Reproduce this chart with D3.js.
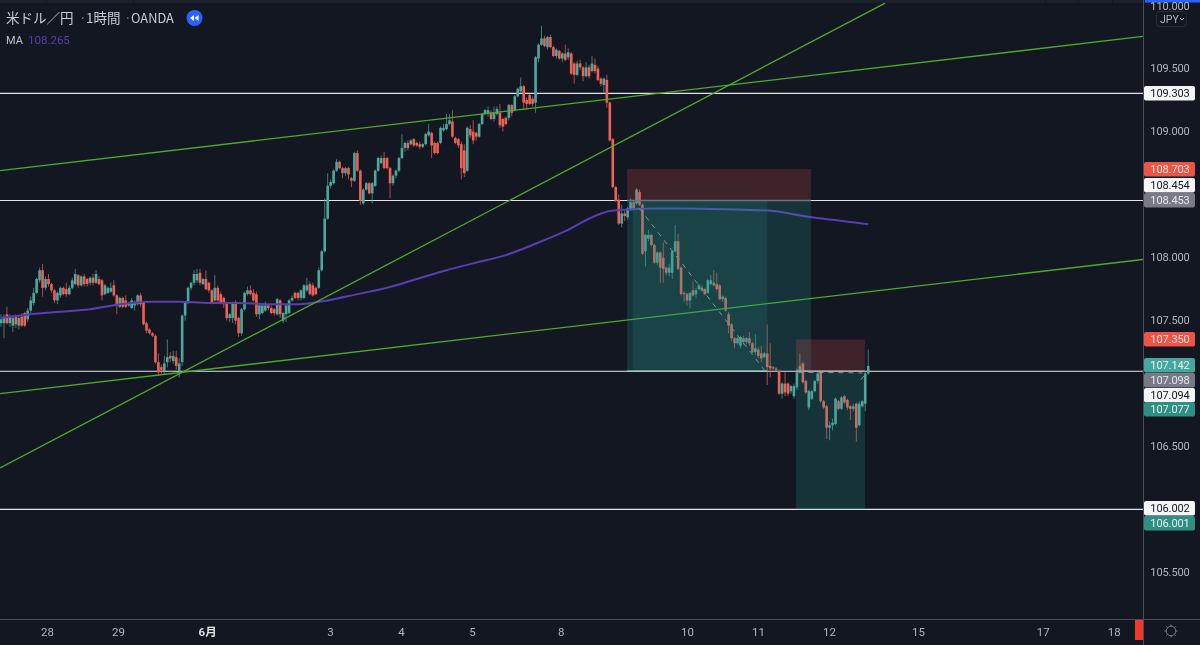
<!DOCTYPE html>
<html><head><meta charset="utf-8">
<script src="https://cdn.jsdelivr.net/npm/d3@7/dist/d3.min.js"></script>
<style>
html,body{margin:0;padding:0;background:#131722;overflow:hidden}
svg{display:block;font-family:Roboto,sans-serif;filter:blur(0.3px)}
</style></head><body>
<svg id="c" width="1200" height="645"></svg>
<script>
// ---------- data (USD/JPY, 1 hour, OANDA) ----------
const opens=[
107.48,107.48,107.55,107.48,107.46,107.53,107.46,107.53,107.56,107.51,
107.58,107.64,107.72,107.82,107.90,107.76,107.83,107.79,107.74,107.66,
107.70,107.76,107.75,107.71,107.76,107.79,107.86,107.78,107.85,107.83,
107.80,107.84,107.80,107.83,107.82,107.71,107.72,107.73,107.78,107.70,
107.61,107.68,107.66,107.62,107.60,107.62,107.63,107.70,107.64,107.48,
107.43,107.40,107.38,107.17,107.13,107.10,107.17,107.22,107.18,107.21,
107.10,107.17,107.54,107.64,107.76,107.80,107.82,107.88,107.79,107.83,
107.80,107.74,107.66,107.76,107.71,107.68,107.64,107.52,107.52,107.64,
107.52,107.40,107.59,107.71,107.74,107.72,107.71,107.55,107.56,107.58,
107.62,107.60,107.59,107.55,107.66,107.50,107.55,107.56,107.66,107.72,
107.72,107.68,107.68,107.74,107.79,107.78,107.76,107.76,107.90,108.05,
108.31,108.57,108.59,108.69,108.76,108.71,108.67,108.71,108.63,108.61,
108.83,108.69,108.43,108.54,108.59,108.51,108.57,108.69,108.75,108.79,
108.79,108.71,108.59,108.65,108.69,108.79,108.87,108.91,108.90,108.94,
108.91,108.90,108.88,108.90,108.97,108.99,108.91,108.91,108.91,109.01,
109.02,109.06,109.08,108.95,108.94,108.90,108.85,108.69,109.02,109.00,
108.99,108.96,109.06,109.14,109.14,109.15,109.10,109.14,109.15,109.10,
109.11,109.11,109.21,109.17,109.28,109.32,109.36,109.25,109.29,109.26,
109.23,109.58,109.69,109.74,109.67,109.75,109.67,109.60,109.64,109.58,
109.62,109.59,109.62,109.54,109.45,109.54,109.51,109.44,109.51,109.48,
109.53,109.50,109.42,109.37,109.41,109.23,108.94,108.56,108.46,108.27,
108.35,108.32,108.38,108.44,108.43,108.52,108.42,108.05,108.15,108.18,
108.10,107.96,108.04,108.00,107.92,107.88,107.88,108.05,108.13,107.92,
107.72,107.71,107.66,107.74,107.71,107.75,107.76,107.75,107.72,107.79,
107.80,107.79,107.78,107.67,107.68,107.55,107.47,107.36,107.32,107.30,
107.36,107.33,107.36,107.32,107.25,107.27,107.24,107.21,107.24,107.14,
107.13,107.12,107.10,106.92,107.00,107.00,106.94,106.90,106.97,107.09,
107.16,107.02,106.81,106.88,106.94,107.02,107.09,106.86,106.82,106.65,
106.67,106.68,106.86,106.80,106.90,106.87,106.82,106.80,106.84,106.67,
106.82,106.84,107.08];
const highs=[
107.55,107.55,107.61,107.55,107.54,107.55,107.54,107.56,107.57,107.60,
107.69,107.76,107.84,107.92,107.95,107.85,107.87,107.80,107.75,107.73,
107.77,107.77,107.80,107.78,107.84,107.91,107.87,107.86,107.87,107.84,
107.85,107.87,107.90,107.85,107.83,107.79,107.77,107.80,107.82,107.71,
107.69,107.69,107.70,107.65,107.68,107.66,107.71,107.72,107.65,107.49,
107.44,107.41,107.39,107.24,107.15,107.22,107.35,107.25,107.26,107.26,
107.20,107.55,107.65,107.77,107.81,107.90,107.91,107.91,107.84,107.90,
107.81,107.75,107.86,107.78,107.73,107.69,107.65,107.56,107.65,107.66,
107.53,107.60,107.73,107.77,107.78,107.75,107.73,107.63,107.64,107.65,
107.63,107.62,107.60,107.68,107.67,107.57,107.63,107.67,107.70,107.73,
107.73,107.75,107.79,107.84,107.81,107.80,107.77,107.92,108.06,108.47,
108.67,108.62,108.70,108.78,108.77,108.72,108.72,108.72,108.64,108.84,
108.85,108.70,108.55,108.60,108.60,108.60,108.70,108.80,108.81,108.84,
108.80,108.72,108.66,108.70,108.80,108.98,108.92,108.93,108.94,108.95,
108.92,108.92,108.91,108.99,109.06,109.00,108.92,108.92,109.04,109.06,
109.14,109.14,109.17,108.96,108.95,108.92,108.90,109.04,109.05,109.09,
109.00,109.07,109.15,109.18,109.20,109.17,109.20,109.20,109.22,109.11,
109.12,109.22,109.22,109.29,109.35,109.43,109.37,109.27,109.30,109.28,
109.60,109.70,109.84,109.76,109.76,109.77,109.68,109.66,109.65,109.63,
109.69,109.66,109.63,109.55,109.56,109.57,109.52,109.55,109.53,109.60,
109.58,109.52,109.43,109.43,109.45,109.24,108.95,108.57,108.50,108.42,
108.37,108.40,108.47,108.45,108.55,108.54,108.43,108.19,108.22,108.19,
108.11,108.05,108.05,108.12,107.93,107.95,108.06,108.26,108.19,107.93,
107.73,107.72,107.73,107.81,107.76,107.79,107.78,107.76,107.83,107.86,
107.90,107.88,107.79,107.70,107.69,107.57,107.48,107.37,107.37,107.38,
107.38,107.37,107.41,107.33,107.39,107.29,107.30,107.25,107.47,107.32,
107.14,107.13,107.11,107.01,107.09,107.01,106.99,107.00,107.12,107.24,
107.17,107.03,106.95,106.95,107.03,107.10,107.10,106.87,106.83,106.70,
106.72,106.89,106.87,106.90,106.91,106.88,106.83,106.84,106.85,106.86,
106.87,107.10,107.27];
const lows=[
107.45,107.36,107.47,107.45,107.41,107.44,107.43,107.45,107.45,107.49,
107.56,107.62,107.71,107.80,107.69,107.74,107.77,107.72,107.64,107.63,
107.68,107.70,107.69,107.70,107.75,107.78,107.76,107.77,107.77,107.77,
107.78,107.78,107.79,107.78,107.66,107.70,107.71,107.72,107.69,107.55,
107.60,107.60,107.60,107.61,107.59,107.58,107.62,107.61,107.46,107.40,
107.39,107.37,107.16,107.06,107.07,107.07,107.13,107.17,107.16,107.11,
107.05,107.14,107.50,107.63,107.74,107.78,107.80,107.78,107.78,107.74,
107.72,107.63,107.65,107.64,107.63,107.60,107.50,107.49,107.48,107.47,
107.37,107.38,107.58,107.70,107.70,107.65,107.53,107.51,107.55,107.57,
107.58,107.55,107.54,107.54,107.52,107.48,107.49,107.55,107.65,107.67,
107.66,107.66,107.67,107.73,107.70,107.69,107.70,107.75,107.89,108.04,
108.30,108.55,108.58,108.68,108.70,108.63,108.65,108.62,108.56,108.60,
108.68,108.42,108.42,108.53,108.50,108.43,108.56,108.68,108.74,108.70,
108.70,108.47,108.57,108.63,108.68,108.78,108.84,108.85,108.89,108.88,
108.88,108.86,108.87,108.89,108.96,108.79,108.82,108.82,108.90,109.00,
109.01,109.05,108.95,108.90,108.87,108.62,108.64,108.68,108.95,108.90,
108.93,108.95,109.05,109.13,109.12,109.09,109.08,109.13,109.03,109.00,
109.05,109.09,109.12,109.16,109.27,109.31,109.17,109.17,109.21,109.20,
109.15,109.55,109.68,109.67,109.65,109.66,109.59,109.58,109.57,109.55,
109.56,109.57,109.45,109.38,109.44,109.49,109.40,109.43,109.42,109.47,
109.46,109.40,109.36,109.30,109.19,108.92,108.55,108.44,108.26,108.24,
108.29,108.30,108.37,108.38,108.42,108.41,108.02,107.93,108.13,108.09,
107.95,107.94,107.80,107.80,107.86,107.85,107.83,108.04,107.90,107.70,
107.65,107.62,107.60,107.69,107.68,107.74,107.73,107.70,107.71,107.78,
107.77,107.74,107.66,107.65,107.57,107.40,107.34,107.28,107.31,107.28,
107.31,107.31,107.30,107.24,107.23,107.20,107.17,107.20,106.99,107.05,
107.11,107.10,106.91,106.88,106.90,106.90,106.92,106.88,106.95,107.08,
107.00,106.92,106.79,106.87,106.93,107.00,106.85,106.80,106.56,106.55,
106.63,106.67,106.79,106.79,106.84,106.79,106.71,106.78,106.54,106.66,
106.81,106.78,107.07];
const closes=[
107.51,107.53,107.48,107.53,107.52,107.47,107.52,107.46,107.46,107.58,
107.66,107.72,107.83,107.90,107.76,107.83,107.79,107.74,107.66,107.72,
107.76,107.71,107.71,107.76,107.82,107.87,107.78,107.85,107.79,107.79,
107.84,107.80,107.87,107.79,107.70,107.78,107.76,107.76,107.70,107.62,
107.68,107.61,107.61,107.64,107.66,107.64,107.70,107.63,107.47,107.42,
107.40,107.38,107.17,107.09,107.11,107.16,107.21,107.20,107.22,107.14,
107.16,107.54,107.64,107.76,107.80,107.87,107.87,107.80,107.83,107.75,
107.74,107.64,107.76,107.66,107.64,107.63,107.52,107.55,107.64,107.50,
107.40,107.59,107.72,107.74,107.71,107.66,107.55,107.62,107.62,107.62,
107.60,107.56,107.56,107.67,107.55,107.56,107.62,107.66,107.68,107.68,
107.68,107.74,107.78,107.78,107.71,107.70,107.71,107.90,108.05,108.31,
108.57,108.60,108.69,108.76,108.71,108.67,108.71,108.66,108.61,108.83,
108.69,108.45,108.54,108.59,108.51,108.59,108.69,108.79,108.79,108.71,
108.71,108.59,108.65,108.69,108.79,108.87,108.91,108.87,108.93,108.89,
108.89,108.88,108.90,108.98,109.00,108.89,108.83,108.83,109.03,109.03,
109.06,109.09,108.96,108.91,108.89,108.71,108.67,109.03,108.97,108.93,
108.96,109.06,109.14,109.17,109.17,109.10,109.15,109.18,109.05,109.04,
109.06,109.21,109.15,109.28,109.34,109.36,109.23,109.22,109.22,109.22,
109.59,109.69,109.74,109.68,109.75,109.67,109.60,109.65,109.58,109.62,
109.57,109.63,109.46,109.45,109.54,109.51,109.44,109.51,109.44,109.54,
109.48,109.41,109.38,109.42,109.23,108.93,108.56,108.45,108.27,108.35,
108.33,108.39,108.44,108.39,108.54,108.42,108.03,108.18,108.18,108.10,
107.96,108.04,107.92,107.91,107.88,107.92,108.05,108.13,107.91,107.71,
107.71,107.66,107.72,107.70,107.74,107.78,107.74,107.71,107.82,107.82,
107.78,107.75,107.67,107.69,107.58,107.46,107.36,107.32,107.36,107.37,
107.33,107.36,107.32,107.25,107.28,107.22,107.20,107.24,107.13,107.12,
107.12,107.11,106.92,107.00,106.93,106.92,106.98,106.98,107.09,107.14,
107.01,106.93,106.94,106.94,107.02,107.08,106.86,106.81,106.65,106.67,
106.69,106.88,106.80,106.89,106.85,106.81,106.80,106.82,106.65,106.84,
106.86,107.08,107.14];

// moving average readings: bar index and value
const maBars=[0,10,20,30,40,50,60,70,80,90,100,110,120,130,140,150,160,170,180,190,200,205,210,220,230,240,250,260,270,280,292];
const maValues=[107.52,107.55,107.57,107.59,107.63,107.65,107.65,107.64,107.64,107.63,107.63,107.66,107.71,107.76,107.83,107.90,107.96,108.02,108.11,108.21,108.33,108.37,108.38,108.39,108.39,108.385,108.38,108.37,108.33,108.30,108.265];

const levelPrices=[109.303,108.453,107.098,106.002];
const trendBars=[[-0.3,384.5],[-0.3,297.7],[-0.3,384.5]];
const trendPrices=[[108.69,109.755],[106.33,110.02],[106.92,107.985]];

const priceTicks=[110,109.5,109,108,107.5,106.5,105.5];
const timeBars=[15.5,39.4,69.4,110.8,134.7,158.6,188.5,231,254.9,278.8,308.8,350.8,374.7];
const timeLabels=["28","29","6月","3","4","5","8","10","11","12","15","17","18"];

const tagTexts=["109.303","108.703","108.454","108.453","107.350","107.142","107.098","107.094","107.077","106.002","106.001"];
const tagKinds=["white","red","white","grey","red","teal","grey","white","teal2","white","teal2"];

// ---------- layout ----------
const W=1200,H=645,plotW=1143,plotH=619;
const UP="#4fa89d",DOWN="#ee6156";
const x=d3.scaleLinear().domain([0,292]).range([1,868.2]);
const y=d3.scaleLinear().domain([110,105]).range([5.6,635.6]);
const svg=d3.select("#c");
svg.append("rect").attr("width",W).attr("height",H).attr("fill","#131722");
svg.append("defs").append("clipPath").attr("id","plot").append("rect").attr("y",3).attr("width",plotW).attr("height",plotH-3);
const plot=svg.append("g").attr("clip-path","url(#plot)");

// horizontal levels
plot.selectAll(".lv").data(levelPrices).join("line")
 .attr("x1",0).attr("x2",plotW).attr("y1",d=>y(d)).attr("y2",d=>y(d))
 .attr("stroke","#e2e3e6").attr("stroke-width",1.2);

// candles
const n=closes.length,idx=d3.range(n);
plot.selectAll(".w").data(idx).join("line")
 .attr("x1",i=>x(i)).attr("x2",i=>x(i)).attr("y1",i=>y(highs[i])).attr("y2",i=>y(lows[i]))
 .attr("stroke",i=>closes[i]>=opens[i]?UP:DOWN).attr("stroke-width",1).attr("stroke-opacity",.72);
plot.selectAll(".b").data(idx).join("rect")
 .attr("x",i=>x(i)-1.3).attr("width",2.6)
 .attr("y",i=>y(Math.max(opens[i],closes[i])))
 .attr("height",i=>Math.max(1,Math.abs(y(opens[i])-y(closes[i]))))
 .attr("fill",i=>closes[i]>=opens[i]?UP:DOWN);

// moving average
plot.append("path").datum(maBars.map((b,i)=>[b,maValues[i]]))
 .attr("fill","none").attr("stroke","#5a3db2").attr("stroke-width",2)
 .attr("d",d3.line().x(d=>x(d[0])).y(d=>y(d[1])).curve(d3.curveMonotoneX));

// trend lines
plot.selectAll(".t").data(trendBars).join("line")
 .attr("x1",d=>x(d[0])).attr("x2",d=>x(d[1]))
 .attr("y1",(d,i)=>y(trendPrices[i][0])).attr("y2",(d,i)=>y(trendPrices[i][1]))
 .attr("stroke","#4fa92b").attr("stroke-width",1.3);

// position tools
const TEAL="rgba(38,166,154,0.2)",TEAL2="rgba(38,150,130,0.17)",ROSE="rgba(239,83,80,0.2)";
function box(b0,b1,p0,p1,fill){
 plot.append("rect").attr("x",x(b0)).attr("width",x(b1)-x(b0))
  .attr("y",y(p0)).attr("height",y(p1)-y(p0)).attr("fill",fill);
}
box(210.8,272.7,108.703,108.453,ROSE);
box(210.8,272.7,108.453,107.098,TEAL);
box(212.7,258,108.453,107.098,TEAL2);
box(267.7,290.9,107.35,107.098,ROSE);
box(267.7,290.9,107.098,106.002,TEAL);
const entry=(b0,b1,p,c)=>plot.append("line").attr("x1",x(b0)).attr("x2",x(b1)).attr("y1",y(p)).attr("y2",y(p))
 .attr("stroke",c).attr("stroke-width",1.3);
entry(210.8,272.7,108.453,"#6f737c");
entry(210.8,258,107.098,"#a9c9c6");
entry(267.7,290.9,107.098,"#a8abb0");
const dash=(b0,p0,b1,p1)=>plot.append("line").attr("x1",x(b0)).attr("x2",x(b1)).attr("y1",y(p0)).attr("y2",y(p1))
 .attr("stroke","#8a9094").attr("stroke-width",1).attr("stroke-dasharray","5 5");
dash(215,108.39,257.6,107.09);
dash(268.5,107.09,290,107.085);
dash(289.5,107.03,292.2,107.11);

// axes frame
svg.append("rect").attr("width",W).attr("height",3).attr("fill","#1c202c");
svg.selectAll(".sep").data([46.5,133.5,1045.5,1078.5,1112.5]).join("line")
 .attr("x1",d=>d).attr("x2",d=>d).attr("y1",0).attr("y2",3).attr("stroke","#131722");
svg.append("rect").attr("x",1145).attr("width",55).attr("height",2.5).attr("fill","#2962ff");
svg.append("line").attr("x1",plotW+.5).attr("x2",plotW+.5).attr("y1",0).attr("y2",H).attr("stroke","#4a4d55").attr("stroke-width",1);
svg.append("line").attr("x1",0).attr("x2",W).attr("y1",plotH+.5).attr("y2",plotH+.5).attr("stroke","#4a4d55").attr("stroke-width",1);

// price axis
const yAxis=svg.append("g").attr("transform",`translate(${plotW},0)`)
 .call(d3.axisRight(y).tickValues(priceTicks).tickSize(0).tickFormat(d3.format(".3f")));
yAxis.select(".domain").remove();
yAxis.selectAll("text").attr("x",27).attr("text-anchor","middle").attr("fill","#b2b5be")
 .attr("font-size",11).attr("font-family",'Roboto,sans-serif').attr("letter-spacing",-.1)
 .attr("dy",d=>d===110?"0.38em":"0.28em");

// time axis
const xAxis=svg.append("g").attr("transform",`translate(0,${plotH})`)
 .call(d3.axisBottom(x).tickValues(timeBars).tickSize(0).tickFormat((d,i)=>timeLabels[i]));
xAxis.select(".domain").remove();
xAxis.selectAll("text").attr("y",9).attr("fill",(d,i)=>timeLabels[i]==="6月"?"#e4e5e8":"#b2b5be")
 .attr("font-size",11.5).attr("font-family",'Roboto,"Noto Sans CJK JP",sans-serif')
 .attr("font-weight",(d,i)=>timeLabels[i]==="6月"?600:400);
svg.append("rect").attr("x",1135).attr("y",620).attr("width",8).attr("height",20).attr("fill","#f0392b");

// price tags
const tagTop=[86,162,178,193,332,358,373,388,402,501,516];
const tagStyle={white:["#f4f5f6","#131722"],red:["#ef5346","#f6e6e2"],grey:["#787b86","#e6e7ea"],teal:["#46a79c","#e8f3f1"],teal2:["#2f8f82","#e4f0ee"]};
const tags=svg.append("g");
tagTexts.forEach((t,i)=>{
 const s=tagStyle[tagKinds[i]];
 tags.append("rect").attr("x",1144).attr("y",tagTop[i]).attr("width",51).attr("height",14.5).attr("rx",2).attr("fill",s[0]);
 tags.append("text").attr("x",1170).attr("y",tagTop[i]+11).attr("text-anchor","middle")
  .attr("font-size",11).attr("letter-spacing",-.1).attr("fill",s[1]).text(t);
});

// currency button
svg.append("rect").attr("x",1156.5).attr("y",11.5).attr("width",30).attr("height",15).attr("rx",3)
 .attr("fill","#131722").attr("stroke","#2a2e39");
svg.append("text").attr("x",1160).attr("y",23).attr("font-size",10.5).attr("fill","#b2b5be").text("JPY");
svg.append("path").attr("d","M1180 18l2 2 2-2").attr("fill","none").attr("stroke","#b2b5be");

// header
const cjk='"Noto Sans CJK JP","Noto Sans",sans-serif';
const title=svg.append("g").attr("font-size",13.5).attr("font-family",cjk).attr("fill","#c9cbd1");
[["米ドル／円",6,0],["·",79,1],["1時間",86,0],["·",124,1],["OANDA",131,0]].forEach(d=>{
 title.append("text").attr("x",d[1]).attr("y",23).attr("fill",d[2]?"#6a6d78":null)
  .attr("font-size",d[0]==="OANDA"?12.8:null).text(d[0]);
});
svg.append("circle").attr("cx",194.5).attr("cy",18).attr("r",8).attr("fill","#2962ff");
svg.append("path").attr("d","M194 15v6l-4-3zM198.5 15v6l-4-3z").attr("fill","#fff");
svg.append("text").attr("x",6).attr("y",44).attr("font-size",11).attr("fill","#c0c2c8").text("MA");
svg.append("text").attr("x",28).attr("y",44).attr("font-size",11.5).attr("fill","#5a3db2").text(maValues[maValues.length-1].toFixed(3));

// gear
const gear=svg.append("g").attr("transform","translate(1171,631)").attr("fill","none").attr("stroke","#787b86");
gear.append("circle").attr("r",4.8);
gear.selectAll("line").data(d3.range(8)).join("line")
 .attr("x1",d=>4.8*Math.cos(d*Math.PI/4)).attr("y1",d=>4.8*Math.sin(d*Math.PI/4))
 .attr("x2",d=>6.6*Math.cos(d*Math.PI/4)).attr("y2",d=>6.6*Math.sin(d*Math.PI/4));
</script></body></html>
